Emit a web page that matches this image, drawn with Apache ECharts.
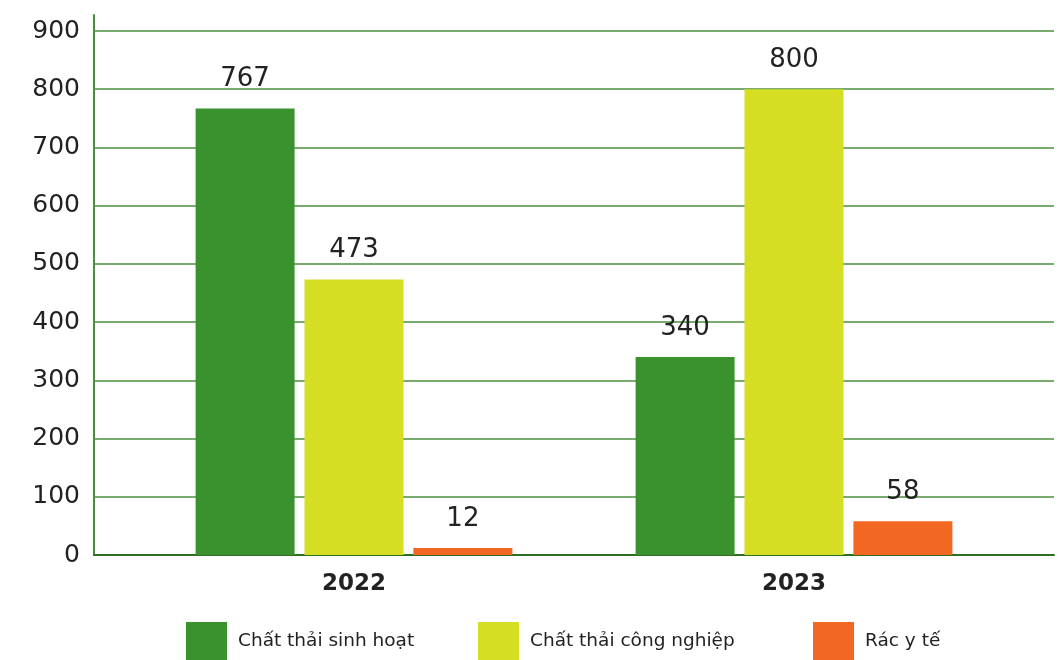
<!DOCTYPE html>
<html><head><meta charset="utf-8">
<script src="https://cdn.jsdelivr.net/npm/echarts@6/dist/echarts.min.js"></script>
<style>html,body{margin:0;padding:0;background:#fff}#c{width:1058px;height:660px}</style>
</head><body><div id="c"></div>
<script>
const categories = ['2022', '2023'];
const seriesNames = ['Chất thải sinh hoạt', 'Chất thải công nghiệp', 'Rác y tế'];
const sinhHoat = [767, 340];
const congNghiep = [473, 800];
const racYTe = [12, 58];
const yTicks = [0, 100, 200, 300, 400, 500, 600, 700, 800, 900];

const colors = ['#3a922f', '#d5de23', '#f26722'];
const FONT = 'DejaVu Sans';
const chart = echarts.init(document.getElementById('c'));
const yMax = yTicks[yTicks.length - 1];
const values = [sinhHoat, congNghiep, racYTe];

chart.setOption({
  animation: false,
  textStyle: { fontFamily: FONT },
  grid: [
    { left: 94, right: 4, top: 15, bottom: 105 },
    { left: 94, right: 4, top: 31, bottom: 105 },
    { left: 134, right: 44, top: 31, bottom: 105 }
  ],
  xAxis: [
    { gridIndex: 0, type: 'value', show: false, min: 0, max: 1 },
    { gridIndex: 1, type: 'value', min: 0, max: 1, axisLabel: { show: false }, axisTick: { show: false }, splitLine: { show: false },
      axisLine: { show: true, lineStyle: { color: '#2f6f22', width: 2 } } },
    { gridIndex: 2, type: 'category', data: categories, axisLine: { show: false }, axisTick: { show: false },
      axisLabel: { fontSize: 23, fontWeight: 'bold', color: '#222', margin: 18, fontFamily: FONT } }
  ],
  yAxis: [
    { gridIndex: 0, type: 'value', min: 0, max: yMax * 540 / 524, axisLabel: { show: false }, axisTick: { show: false }, splitLine: { show: false },
      axisLine: { show: true, lineStyle: { color: '#4a8f3d', width: 2 } } },
    { gridIndex: 1, type: 'value', min: 0, max: yMax, interval: 100,
      axisLine: { show: false }, axisTick: { show: false },
      axisLabel: { fontSize: 25, color: '#222', margin: 14, fontFamily: FONT },
      splitLine: { show: true, lineStyle: { color: '#4d8f3f', width: 1.5 } } },
    { gridIndex: 2, type: 'value', min: 0, max: yMax, show: false, splitLine: { show: false } }
  ],
  legend: seriesNames.map((n, i) => ({
    data: [n], left: [186, 478, 813][i], top: 622, padding: 0, itemWidth: 41, itemHeight: 38, itemGap: 10,
    icon: 'rect', selectedMode: false,
    textStyle: { fontSize: 18.5, color: '#222', fontFamily: FONT, padding: [4, 0, 0, 6] }
  })),
  series: seriesNames.map((n, i) => ({
    name: n, type: 'bar', xAxisIndex: 2, yAxisIndex: 2, data: values[i],
    barWidth: 99, barGap: '10%',
    itemStyle: { color: colors[i] },
    label: { show: true, position: 'top', distance: 16, fontSize: 26, color: '#222', fontFamily: FONT }
  }))
});
</script></body></html>
